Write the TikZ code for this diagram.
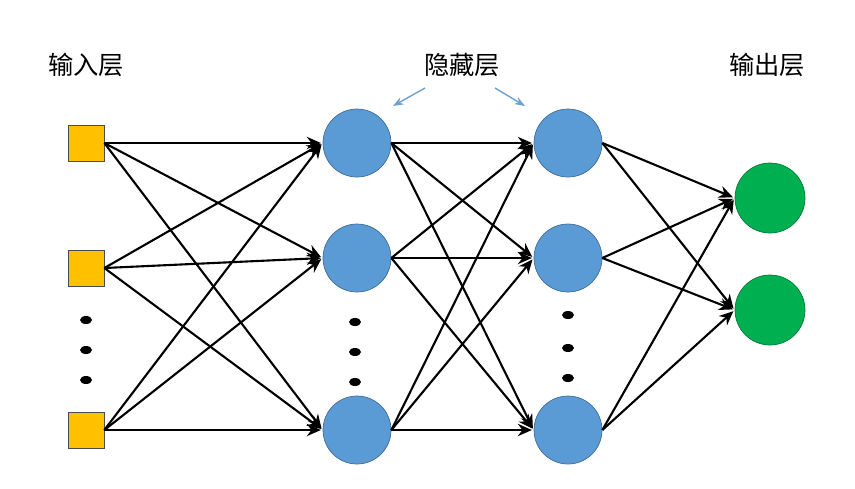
\documentclass[tikz,border=0pt]{standalone}
\usepackage{fontspec}
\setmainfont{Noto Sans CJK SC}
\usetikzlibrary{arrows.meta}
\definecolor{inyellow}{RGB}{255,192,0}
\definecolor{hidblue}{RGB}{91,155,213}
\definecolor{outgreen}{RGB}{0,176,80}
\definecolor{tipblue}{RGB}{110,160,210}

\begin{document}
\begin{tikzpicture}[x=0.02cm, y=-0.02cm,
    insq/.style={draw=black!70, fill=inyellow, minimum size=0.72cm, inner sep=0pt},
    hid/.style={circle, draw=hidblue!70!black, fill=hidblue, minimum size=1.36cm, inner sep=0pt},
    outc/.style={circle, draw=outgreen!70!black, fill=outgreen, minimum size=1.4cm, inner sep=0pt},
    edge/.style={-{Stealth[length=8pt,width=7pt]}, line width=1.2pt, shorten >=1pt},
    lbl/.style={font=\Large}]
        \useasboundingbox (0, 0) rectangle (855, 488);
        % nodes
        \node[insq] (i1) at (86, 143) {};
        \node[insq] (i2) at (86, 268) {};
        \node[insq] (i3) at (86, 430) {};
        \node[hid] (a1) at (357, 143) {};
        \node[hid] (a2) at (357, 258) {};
        \node[hid] (a3) at (357, 430) {};
        \node[hid] (b1) at (568, 143) {};
        \node[hid] (b2) at (568, 258) {};
        \node[hid] (b3) at (568, 430) {};
        \node[outc] (o1) at (770, 198) {};
        \node[outc] (o2) at (770, 310) {};
        % dots
        \foreach \y in {320, 350, 380} \fill (86, \y) ellipse (6 and 4);
        \foreach \y in {322, 352, 382} \fill (355, \y) ellipse (6 and 4);
        \foreach \y in {315, 348, 378} \fill (568, \y) ellipse (6 and 4);
        % edges
        \foreach \s in {1, 2, 3}
          \foreach \t in {1, 2, 3} {
            \draw[edge] (i\s.east) -- (a\t.west);
            \draw[edge] (a\s.east) -- (b\t.west);
          }
        \foreach \s in {1, 2, 3}
          \foreach \t in {1, 2}
            \draw[edge] (b\s.east) -- (o\t.west);
        % labels
        \node[lbl] (lin) at (86, 65) {输入层};
        \node[lbl] (lhid) at (462, 65) {隐藏层};
        \node[lbl] (lout) at (767, 65) {输出层};
        \coordinate (sa) at (425, 88);
        \coordinate (ta) at (393, 106);
        \coordinate (sb) at (495, 88);
        \coordinate (tb) at (525, 106);
        \draw[-{Stealth[length=6pt]}, tipblue, line width=0.8pt] (sa) -- (ta);
        \draw[-{Stealth[length=6pt]}, tipblue, line width=0.8pt] (sb) -- (tb);
\end{tikzpicture}
\end{document}
